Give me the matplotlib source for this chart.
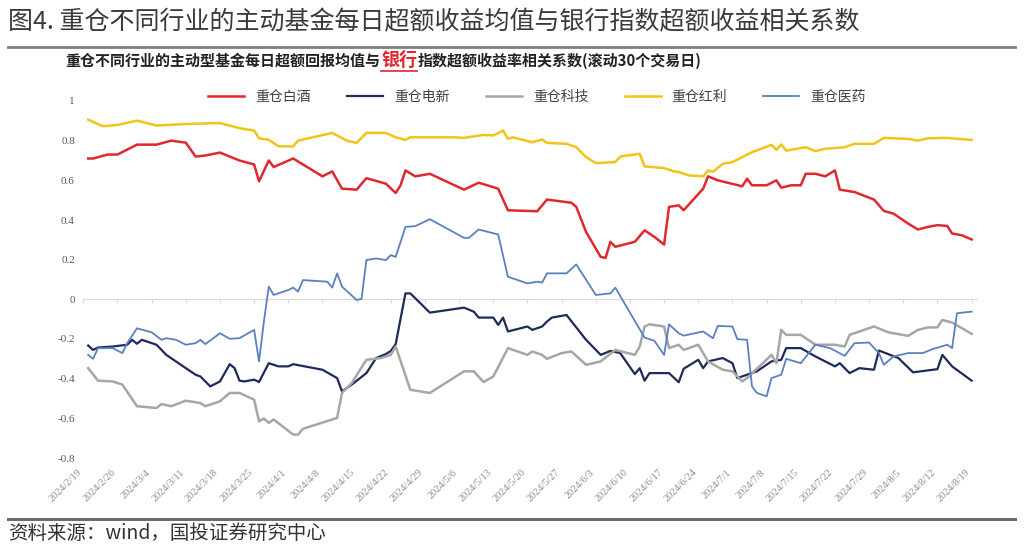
import matplotlib
matplotlib.use('Agg')
import matplotlib.pyplot as plt
import matplotlib.dates as mdates
from matplotlib.ticker import FuncFormatter
import pandas as pd

plt.rcParams['font.family'] = ['Noto Sans CJK SC', 'DejaVu Sans']

# ---- data (2024) ----
baijiu_dates = ['2/20','2/21','2/24','2/26','3/1','3/5','3/8','3/11','3/13','3/15','3/18','3/20','3/22','3/25','3/26','3/28','3/29',
                '4/2','4/8','4/10','4/12','4/15','4/17','4/21','4/23','4/24','4/25','4/27','4/30',
                '5/7','5/10','5/14','5/16','5/22','5/24','5/29','5/30',
                '6/1','6/4','6/5','6/6','6/7','6/11','6/13','6/15','6/17','6/18','6/20','6/21','6/25','6/26','6/28',
                '7/3','7/4','7/5','7/8','7/10','7/11','7/13','7/15','7/16','7/18','7/20','7/22','7/23','7/26','7/30',
                '8/1','8/3','8/6','8/8','8/10','8/12','8/14','8/15','8/17','8/19']
baijiu_vals = [0.71,0.71,0.73,0.73,0.78,0.78,0.80,0.79,0.72,0.725,0.74,0.72,0.70,0.68,0.595,0.70,0.667,
               0.71,0.62,0.645,0.558,0.553,0.611,0.583,0.536,0.575,0.65,0.62,0.633,
               0.553,0.588,0.558,0.449,0.444,0.503,0.487,0.466,
               0.34,0.214,0.209,0.29,0.265,0.29,0.348,0.315,0.276,0.466,0.474,0.449,0.558,0.62,0.60,
               0.57,0.608,0.575,0.575,0.60,0.563,0.575,0.575,0.633,0.633,0.62,0.65,0.553,0.541,0.503,
               0.446,0.432,0.382,0.352,0.365,0.374,0.37,0.332,0.323,0.302]

dianxin_dates = ['2/20','2/21','2/22','2/25','2/28','2/29',
                 '3/1','3/2','3/5','3/7','3/11','3/13','3/14','3/16','3/18','3/20','3/21','3/22','3/23','3/25','3/26','3/28','3/30',
                 '4/1','4/2','4/8','4/11','4/12','4/14','4/17','4/19','4/21','4/22','4/23','4/25','4/26','4/30',
                 '5/7','5/9','5/10','5/13','5/14','5/15','5/16','5/20','5/21','5/23','5/24','5/25','5/28',
                 '6/1','6/4','6/6','6/8','6/11','6/12','6/13','6/14','6/18','6/20','6/21','6/24','6/25','6/26','6/29',
                 '7/1','7/2','7/6','7/9','7/11','7/12','7/15','7/18','7/22','7/23','7/25','7/27','7/30','7/31',
                 '8/4','8/7','8/12','8/13','8/15','8/19']
dianxin_vals = [-0.233,-0.255,-0.243,-0.238,-0.229,-0.204,
                -0.224,-0.204,-0.229,-0.28,-0.347,-0.38,-0.389,-0.439,-0.414,-0.327,-0.347,-0.41,-0.414,-0.405,-0.417,-0.322,-0.338,
                -0.338,-0.327,-0.355,-0.397,-0.464,-0.43,-0.372,-0.296,-0.276,-0.26,-0.226,0.03,0.03,-0.067,
                -0.042,-0.062,-0.092,-0.092,-0.129,-0.092,-0.162,-0.137,-0.154,-0.137,-0.112,-0.092,-0.079,
                -0.204,-0.28,-0.26,-0.271,-0.377,-0.347,-0.41,-0.372,-0.372,-0.418,-0.35,-0.305,-0.347,-0.313,-0.296,
                -0.322,-0.397,-0.363,-0.313,-0.305,-0.246,-0.246,-0.288,-0.338,-0.322,-0.372,-0.347,-0.355,-0.258,
                -0.296,-0.368,-0.352,-0.28,-0.338,-0.41]

keji_dates = ['2/20','2/22','2/25','2/27',
              '3/1','3/5','3/6','3/8','3/11','3/14','3/15','3/18','3/20','3/22','3/25','3/26','3/27','3/28','3/29',
              '4/2','4/3','4/4','4/11','4/12','4/14','4/17','4/20','4/22','4/23','4/26','4/30',
              '5/7','5/9','5/11','5/13','5/16','5/20','5/21','5/23','5/24','5/27','5/29',
              '6/1','6/4','6/7','6/11','6/12','6/13','6/14','6/17','6/18','6/20','6/21','6/24','6/26','6/29',
              '7/1','7/3','7/4','7/9','7/10','7/11','7/12','7/15','7/18','7/22','7/24','7/25','7/30',
              '8/2','8/6','8/8','8/10','8/12','8/13','8/15','8/19']
keji_vals = [-0.347,-0.41,-0.414,-0.43,
             -0.539,-0.548,-0.528,-0.539,-0.511,-0.523,-0.539,-0.514,-0.472,-0.472,-0.506,-0.615,-0.601,-0.623,-0.606,
             -0.682,-0.682,-0.653,-0.598,-0.472,-0.422,-0.305,-0.296,-0.28,-0.238,-0.456,-0.472,
             -0.363,-0.363,-0.417,-0.389,-0.246,-0.28,-0.263,-0.28,-0.30,-0.271,-0.263,
             -0.33,-0.313,-0.255,-0.28,-0.238,-0.137,-0.126,-0.137,-0.246,-0.229,-0.255,-0.229,-0.313,-0.355,
             -0.363,-0.414,-0.397,-0.28,-0.322,-0.154,-0.179,-0.179,-0.229,-0.229,-0.238,-0.179,-0.137,
             -0.167,-0.184,-0.154,-0.142,-0.141,-0.104,-0.117,-0.174]

hongli_dates = ['2/20','2/23','2/26',
                '3/1','3/5','3/11','3/18','3/22','3/25','3/26','3/28','3/30',
                '4/2','4/3','4/10','4/13','4/15','4/17','4/21','4/23','4/25','4/26',
                '5/5','5/7','5/11','5/13','5/15','5/16','5/17','5/21','5/23','5/24','5/28','5/30',
                '6/1','6/3','6/7','6/8','6/12','6/13','6/17','6/19','6/20','6/22','6/25','6/26','6/27','6/29',
                '7/1','7/5','7/9','7/10','7/11','7/12','7/16','7/18','7/20','7/24','7/26','7/30',
                '8/1','8/6','8/8','8/10','8/14','8/16','8/19']
hongli_vals = [0.906,0.873,0.879,
               0.901,0.876,0.884,0.889,0.863,0.851,0.812,0.804,0.772,
               0.771,0.80,0.839,0.80,0.789,0.839,0.839,0.817,0.804,0.817,
               0.817,0.814,0.829,0.826,0.851,0.809,0.817,0.792,0.806,0.789,0.784,0.767,
               0.717,0.687,0.692,0.72,0.734,0.67,0.662,0.645,0.642,0.625,0.62,0.65,0.643,0.683,
               0.692,0.742,0.779,0.754,0.781,0.75,0.767,0.747,0.759,0.767,0.784,0.784,
               0.814,0.809,0.80,0.812,0.814,0.809,0.804]

yiyao_dates = ['2/20','2/21','2/22','2/25','2/27','2/28',
               '3/1','3/4','3/6','3/7','3/9','3/11','3/13','3/14','3/15','3/18','3/20','3/22','3/25','3/26','3/27','3/28','3/29',
               '4/1','4/2','4/3','4/4','4/9','4/10','4/11','4/12','4/15','4/16','4/17','4/19','4/21','4/22','4/23','4/25','4/27','4/30',
               '5/7','5/8','5/10','5/14','5/16','5/20','5/22','5/23','5/24','5/28','5/30',
               '6/3','6/6','6/7','6/13','6/15','6/17','6/18','6/20','6/21','6/25','6/27','6/28',
               '7/1','7/2','7/4','7/5','7/6','7/8','7/9','7/11','7/12','7/15','7/18','7/21','7/24','7/26','7/29','7/31',
               '8/1','8/3','8/6','8/9','8/11','8/14','8/15','8/16','8/19']
yiyao_vals = [-0.28,-0.30,-0.246,-0.246,-0.271,-0.221,
              -0.146,-0.166,-0.204,-0.196,-0.204,-0.229,-0.221,-0.204,-0.226,-0.171,-0.199,-0.196,-0.154,-0.313,-0.112,0.064,0.022,
              0.047,0.059,0.039,0.097,0.089,0.059,0.131,0.064,-0.003,0.002,0.198,0.206,0.198,0.223,0.214,0.365,0.369,0.404,
              0.31,0.31,0.352,0.327,0.114,0.08,0.089,0.084,0.131,0.131,0.176,
              0.022,0.03,0.059,-0.193,-0.209,-0.28,-0.126,-0.171,-0.183,-0.162,-0.196,-0.134,
              -0.137,-0.201,-0.204,-0.439,-0.472,-0.489,-0.397,-0.38,-0.30,-0.322,-0.229,-0.246,-0.285,-0.221,-0.218,-0.271,
              -0.33,-0.288,-0.271,-0.271,-0.251,-0.229,-0.246,-0.07,-0.062]

labels = ['重仓白酒', '重仓电新', '重仓科技', '重仓红利', '重仓医药']
colors = ['#e0282e', '#1c2b59', '#a6a6a6', '#f2c417', '#5b80c2']
y_ticks = [1, 0.8, 0.6, 0.4, 0.2, 0, -0.2, -0.4, -0.6, -0.8]

title = '图4. 重仓不同行业的主动基金每日超额收益均值与银行指数超额收益相关系数'
sub_left = '重仓不同行业的主动型基金每日超额回报均值与'
sub_mid = '银行'
sub_right = '指数超额收益率相关系数(滚动30个交易日)'
source = '资料来源：wind，国投证券研究中心'


def to_dates(lst):
    return pd.to_datetime(['2024/' + s for s in lst], format='%Y/%m/%d')


W, H = 1024, 555
fig = plt.figure(figsize=(W / 100, H / 100), dpi=100)
ax = fig.add_axes([83.3 / W, 97 / H, (976.5 - 83.3) / W, 357 / H])

series = [(baijiu_dates, baijiu_vals, 1.8), (dianxin_dates, dianxin_vals, 1.6),
          (keji_dates, keji_vals, 1.8), (hongli_dates, hongli_vals, 1.8),
          (yiyao_dates, yiyao_vals, 1.3)]
for (d, v, lw), c, lab in zip(series, colors, labels):
    ax.plot(to_dates(d), v, color=c, lw=lw, label=lab, solid_joinstyle='round')

ax.set_ylim(-0.8, 1)
ax.set_xlim(pd.Timestamp('2024-02-19'), pd.Timestamp('2024-08-20'))
ax.set_yticks(y_ticks)
ax.yaxis.set_major_formatter(FuncFormatter(lambda v, p: f'{round(v, 1):g}'))
ax.tick_params(axis='y', length=0, pad=6, labelsize=8, labelcolor='#595959')
for lbl in ax.get_yticklabels():
    lbl.set_family('Liberation Serif')

for s in ['left', 'right', 'top']:
    ax.spines[s].set_visible(False)
ax.spines['bottom'].set_position(('data', 0))
ax.spines['bottom'].set_color('#d9d9d9')
ax.spines['bottom'].set_zorder(0)

tick_dates = pd.date_range('2024-02-19', '2024-08-19', freq='7D')
ax.set_xticks(tick_dates)
ax.tick_params(axis='x', length=3, color='#d9d9d9', labelbottom=False)

sec = ax.secondary_xaxis(0)
sec.set_xticks(mdates.date2num(tick_dates))
sec.xaxis.set_major_formatter(FuncFormatter(
    lambda x, p: '{0.year}/{0.month}/{0.day}'.format(mdates.num2date(x))))
sec.tick_params(length=0, pad=7, labelsize=7.5, labelcolor='#8c8c8c')
sec.spines['bottom'].set_visible(False)
for lbl in sec.get_xticklabels():
    lbl.set_rotation(45)
    lbl.set_ha('right')
    lbl.set_family('Liberation Serif')

leg = ax.legend(loc='center', bbox_to_anchor=(0.508, 1.012), ncol=5, frameon=False,
                fontsize=10, handlelength=2.6, handletextpad=0.8, columnspacing=2.6)
for t in leg.get_texts():
    t.set_color('#404040')

# title + rules
fig.text(8 / W, 1 - 22 / H, title, fontsize=18, color='#3a3a3a', va='center', ha='left')
fig.add_artist(plt.Line2D([8 / W, 1015 / W], [1 - 47 / H, 1 - 47 / H], color='#7f7f7f', lw=2))
fig.add_artist(plt.Line2D([8 / W, 1015 / W], [1 - 519 / H, 1 - 519 / H], color='#6e6e6e', lw=2.2))
fig.text(8 / W, 1 - 533 / H, source, fontsize=14, color='#333333', va='center', ha='left')

# subtitle made of three pieces, middle one red & underlined
fig.canvas.draw()
r = fig.canvas.get_renderer()
base = 1 - 66 / H
t1 = fig.text(65 / W, base, sub_left, fontsize=10.8, fontweight='bold', color='#222222', va='baseline')
x1 = t1.get_window_extent(r).x1 / W
t2 = fig.text(x1 + 1 / W, base, sub_mid, fontsize=13, fontweight='bold', color='#e0282e', va='baseline')
bb2 = t2.get_window_extent(r)
fig.add_artist(plt.Line2D([bb2.x0 / W, bb2.x1 / W], [1 - 71 / H, 1 - 71 / H], color='#e0282e', lw=1.2))
t3 = fig.text(bb2.x1 / W + 1 / W, base, sub_right, fontsize=10.8, fontweight='bold', color='#222222', va='baseline')

fig.savefig('out.png', dpi=100)
